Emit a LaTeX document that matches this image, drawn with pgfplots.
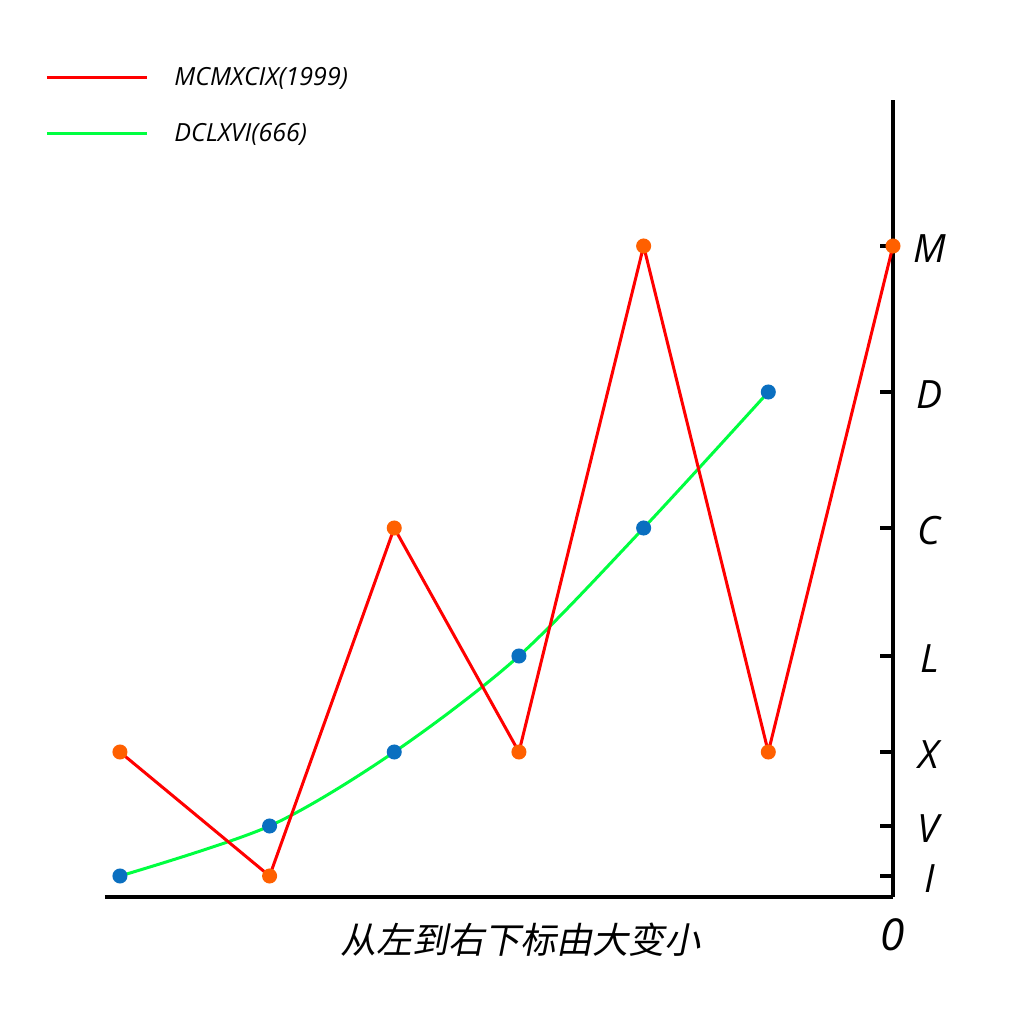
\documentclass[border=0pt]{standalone}
\usepackage{fontspec}
\setmainfont{Open Sans}
\newfontfamily\cjk[FakeSlant=0.2]{Noto Sans CJK SC}
\usepackage{pgfplots}
\pgfplotsset{compat=1.18}
\newlength\U \setlength\U{0.5pt}
\definecolor{lred}{HTML}{FF0000}
\definecolor{lgreen}{HTML}{00FF40}
\definecolor{mred}{HTML}{FF6000}
\definecolor{mblue}{HTML}{0A6FC0}
\begin{document}
\begin{tikzpicture}
\path[use as bounding box] (0,0) rectangle (1024\U,1024\U);
\begin{axis}[
  at={(105\U,127\U)}, anchor=south west,
  scale only axis, width=788\U, height=797\U,
  xmin=-6.32, xmax=0, ymin=-21, ymax=776,
  axis x line=bottom, axis y line=right,
  axis line style={line width=2pt, -},
  clip=false,
  xtick={0}, xticklabels={\textit{0}},
  xticklabel style={font=\fontsize{22}{26}\selectfont, anchor=center, yshift=-19pt},
  x tick style={draw=none},
  ytick={0,50,124,220,348,484,630},
  yticklabels={\textit{I},\textit{V},\textit{X},\textit{L},\textit{C},\textit{D},\textit{M}},
  yticklabel style={font=\fontsize{19.5}{23}\selectfont, anchor=center, xshift=18.5pt, yshift=-1.5pt},
  y tick style={line width=2pt, black},
  tick align=inside, major tick length=6.5pt,
  xlabel={\cjk\itshape 从左到右下标由大变小},
  xlabel style={font=\fontsize{18}{21}\selectfont, at={(rel axis cs:0.527,-0.054)}, anchor=center},
  legend style={at={(rel axis cs:-0.0761,1.0465)}, anchor=north west, draw=none, fill=none,
    font=\fontsize{12.5}{15}\selectfont\itshape, row sep=13.5pt, inner sep=0pt,
    nodes={inner xsep=13pt}},
  legend cell align=left,
  reverse legend,
  legend image code/.code={\draw[#1] (0pt,0pt) -- (50pt,0pt);},
]
\addplot[lgreen, line width=1.5pt, smooth, mark=*, mark size=3pt,
  mark options={draw=mblue, fill=mblue}]
  coordinates {(-6.2,0) (-5,50) (-4,124) (-3,220) (-2,348) (-1,484)};
\addlegendentry{DCLXVI(666)}
\addplot[lred, line width=1.5pt, mark=*, mark size=3pt,
  mark options={draw=mred, fill=mred}]
  coordinates {(-6.2,124) (-5,0) (-4,348) (-3,124) (-2,630) (-1,124) (0,630)};
\addlegendentry{MCMXCIX(1999)}
\end{axis}
\end{tikzpicture}
\end{document}
